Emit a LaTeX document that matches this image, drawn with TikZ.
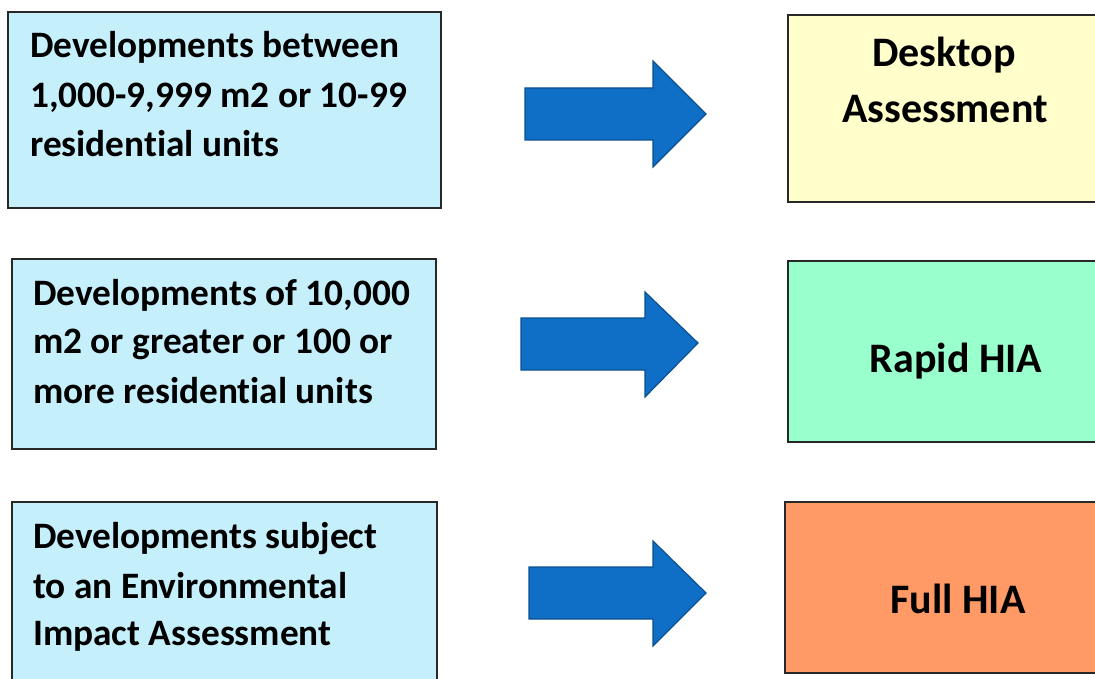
\documentclass[tikz,border=0pt]{standalone}
\usepackage{fontspec}
\setmainfont{Carlito}[RawFeature={-liga;-dlig;-clig}]
\definecolor{leftfill}{RGB}{198,239,252}
\definecolor{deskfill}{RGB}{255,255,204}
\definecolor{rapidfill}{RGB}{153,255,204}
\definecolor{fullfill}{RGB}{255,153,102}
\definecolor{arrowfill}{RGB}{15,111,198}
\definecolor{arrowedge}{RGB}{12,80,145}
\definecolor{edgegray}{RGB}{40,40,40}
\tikzset{
  boxframe/.style={draw=edgegray, line width=1.1pt},
  lefttext/.style={anchor=base west, inner sep=0pt, font=\fontsize{37.3}{46}\selectfont\bfseries},
  righttext/.style={anchor=base, inner sep=0pt, font=\fontsize{42}{50}\selectfont\bfseries},
  blockarrow/.style={fill=arrowfill, draw=arrowedge, line width=1.2pt, line join=miter}
}
\begin{document}
\begin{tikzpicture}[x=1pt,y=-1pt]
\clip (0,0) rectangle (1095,679);
\fill[white] (0,0) rectangle (1095,679);
% left boxes
\draw[boxframe, fill=leftfill] (8,12) rectangle (441,208);
\draw[boxframe, fill=leftfill] (12,259) rectangle (436,449);
\draw[boxframe, fill=leftfill] (12,502) rectangle (437,690);
% right boxes
\draw[boxframe, fill=deskfill] (788,15) rectangle (1110,202);
\draw[boxframe, fill=rapidfill] (788,261) rectangle (1110,442);
\draw[boxframe, fill=fullfill] (785,502) rectangle (1110,673);
% left texts
\node[lefttext] (a1) at (30,58) {Developments between};
\node[lefttext] (a2) at (30,108) {1,000-9,999 m2 or 10-99};
\node[lefttext] (a3) at (30,157) {residential units};
\node[lefttext] (b1) at (33,305) {Developments of 10,000};
\node[lefttext] (b2) at (33,353) {m2 or greater or 100 or};
\node[lefttext] (b3) at (33,403) {more residential units};
\node[lefttext] (c1) at (33,548) {Developments subject};
\node[lefttext] (c2) at (33,598) {to an Environmental};
\node[lefttext] (c3) at (33,645) {Impact Assessment};
% right texts
\node[righttext] (d1) at (944,67) {Desktop};
\node[righttext] (d2) at (945,123) {Assessment};
\node[righttext] (r1) at (956,372) {Rapid HIA};
\node[righttext] (f1) at (958,613) {Full HIA};
% block arrows
\draw[blockarrow] (525,88) -- (653,88) -- (653,61) -- (706,114) -- (653,167) -- (653,140) -- (525,140) -- cycle;
\draw[blockarrow] (521,318) -- (645,318) -- (645,292) -- (698,343) -- (645,397) -- (645,370) -- (521,370) -- cycle;
\draw[blockarrow] (529,567) -- (653,567) -- (653,541) -- (706,593) -- (653,646) -- (653,619) -- (529,619) -- cycle;
\end{tikzpicture}
\end{document}
